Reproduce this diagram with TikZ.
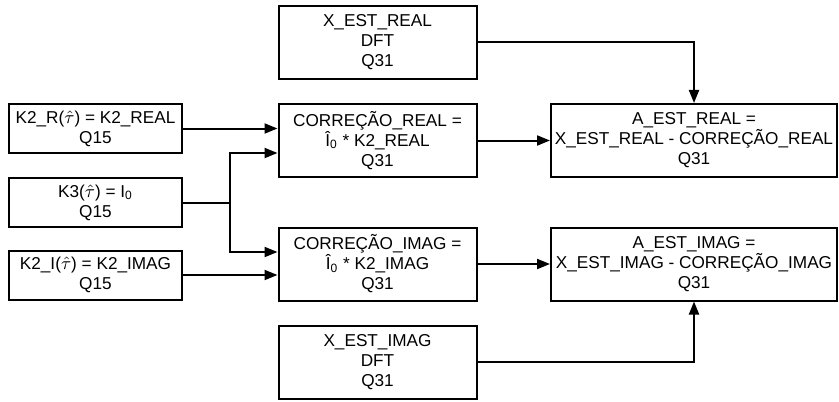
\documentclass[tikz,border=0pt]{standalone}
\usepackage{fontspec}
\setmainfont{Liberation Sans}
\usepackage{tikz}
\usetikzlibrary{arrows.meta}
\tikzset{
  blk/.style={rectangle, draw=black, line width=1pt, align=center, inner sep=0pt,
    font=\fontsize{8.6}{10}\selectfont},
  inblk/.style={blk, minimum width=86.5pt, minimum height=24.5pt},
  midblk/.style={blk, minimum width=99pt, minimum height=36.5pt},
  outblk/.style={blk, minimum width=143pt, minimum height=36.5pt},
  wire/.style={draw=black, line width=1pt},
  arr/.style={wire, -{Triangle[length=6.5pt,width=5pt]}},
  flow/.style={x=0.5pt, y=-0.5pt}
}
\newcommand{\that}{\ensuremath{\hat{\tau}}}

\begin{document}
\begin{tikzpicture}[flow]
    \useasboundingbox (0,0) rectangle (839,401);
    \node[inblk] (k2r) at (95.5,128.5) {K2\_R(\that) = K2\_REAL\\Q15};
    \node[inblk] (k3) at (95.5,202.5) {K3(\that) = I\textsubscript{0}\\Q15};
    \node[inblk] (k2i) at (95.5,275) {K2\_I(\that) = K2\_IMAG\\Q15};
    \node[midblk] (xr) at (377.5,42.5) {X\_EST\_REAL\\DFT\\Q31};
    \node[midblk] (cr) at (377.5,140.5) {CORREÇÃO\_REAL =\\Î\textsubscript{0} * K2\_REAL\\Q31};
    \node[midblk] (ci) at (377.5,264) {CORREÇÃO\_IMAG =\\Î\textsubscript{0} * K2\_IMAG\\Q31};
    \node[midblk] (xi) at (377.5,362) {X\_EST\_IMAG\\DFT\\Q31};
    \node[outblk] (ar) at (694,140.5) {A\_EST\_REAL =\\X\_EST\_REAL - CORREÇÃO\_REAL\\Q31};
    \node[outblk] (ai) at (694,264) {A\_EST\_IMAG =\\X\_EST\_IMAG - CORREÇÃO\_IMAG\\Q31};
    \coordinate (br) at (230,202.5);
    \draw[arr] (k2r.east) -- (k2r.east -| cr.west);
    \draw[wire] (k3.east) -- (br);
    \draw[arr] (br) |- ([yshift=-6.25pt]cr.west);
    \draw[arr] (br) |- ([yshift=6pt]ci.west);
    \draw[arr] (k2i.east) -- (k2i.east -| ci.west);
    \draw[arr] (cr) -- (ar); \draw[arr] (ci) -- (ai);
    \draw[arr] (xr.east) -| (ar.north);
    \draw[arr] (xi.east) -| (ai.south);
  \end{tikzpicture}
\end{document}
